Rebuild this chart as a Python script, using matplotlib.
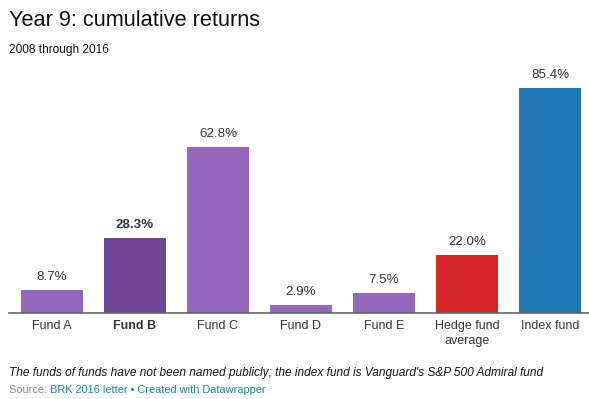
import matplotlib.pyplot as plt

plt.rcParams['font.family'] = ['Liberation Sans', 'DejaVu Sans']

funds = ['Fund A', 'Fund B', 'Fund C', 'Fund D', 'Fund E', 'Hedge fund\naverage', 'Index fund']
returns = [8.7, 28.3, 62.8, 2.9, 7.5, 22.0, 85.4]
colors = ['#9467bd', '#6e4596', '#9467bd', '#9467bd', '#9467bd', '#d62728', '#1f77b4']
bold_idx = 1

W, H = 589, 399
fig = plt.figure(figsize=(W / 100, H / 100), dpi=100)
# axes placed in pixel terms: left 9, right 589, baseline at y=313, top at y=80
ax = fig.add_axes([9 / W, (H - 313) / H, 580 / W, 233 / H])

x = list(range(len(funds)))
ax.bar(x, returns, width=0.747, color=colors, zorder=2)
ax.set_xlim(-0.518, 6.47)
ax.set_ylim(0, 233 / 2.64)

for i, v in enumerate(returns):
    ax.annotate(f'{v:.1f}%', (i, v), xytext=(0, 5), textcoords='offset points',
                ha='center', va='bottom', fontsize=9.6, color='#333333',
                fontweight='bold' if i == bold_idx else 'normal')

ax.set_xticks(x)
ax.set_xticklabels(funds, fontsize=9, color='#333333', linespacing=1.35)
for i, lab in enumerate(ax.get_xticklabels()):
    if i == bold_idx:
        lab.set_fontweight('bold')
ax.tick_params(axis='x', length=0, pad=5)
ax.set_yticks([])
for s in ['top', 'right', 'left']:
    ax.spines[s].set_visible(False)
ax.spines['bottom'].set_color('#666666')
ax.spines['bottom'].set_linewidth(1.2)

fig.text(9 / W, 1 - 26 / H, 'Year 9: cumulative returns', fontsize=15.7, color='#111111', va='baseline')
fig.text(9 / W, 1 - 53 / H, '2008 through 2016', fontsize=8.6, color='#111111', va='baseline')
fig.text(9 / W, 1 - 376 / H,
         "The funds of funds have not been named publicly; the index fund is Vanguard's S&P 500 Admiral fund",
         fontsize=8.6, style='italic', color='#111111', va='baseline')
t = fig.text(9 / W, 1 - 393 / H, 'Source: ', fontsize=7.9, color='#888888', va='baseline')
fig.canvas.draw()
bb = t.get_window_extent()
fig.text(bb.x1 / W, 1 - 393 / H, 'BRK 2016 letter \u2022 Created with Datawrapper',
         fontsize=7.9, color='#1d81a2', va='baseline')

fig.savefig('out.png', dpi=100)
